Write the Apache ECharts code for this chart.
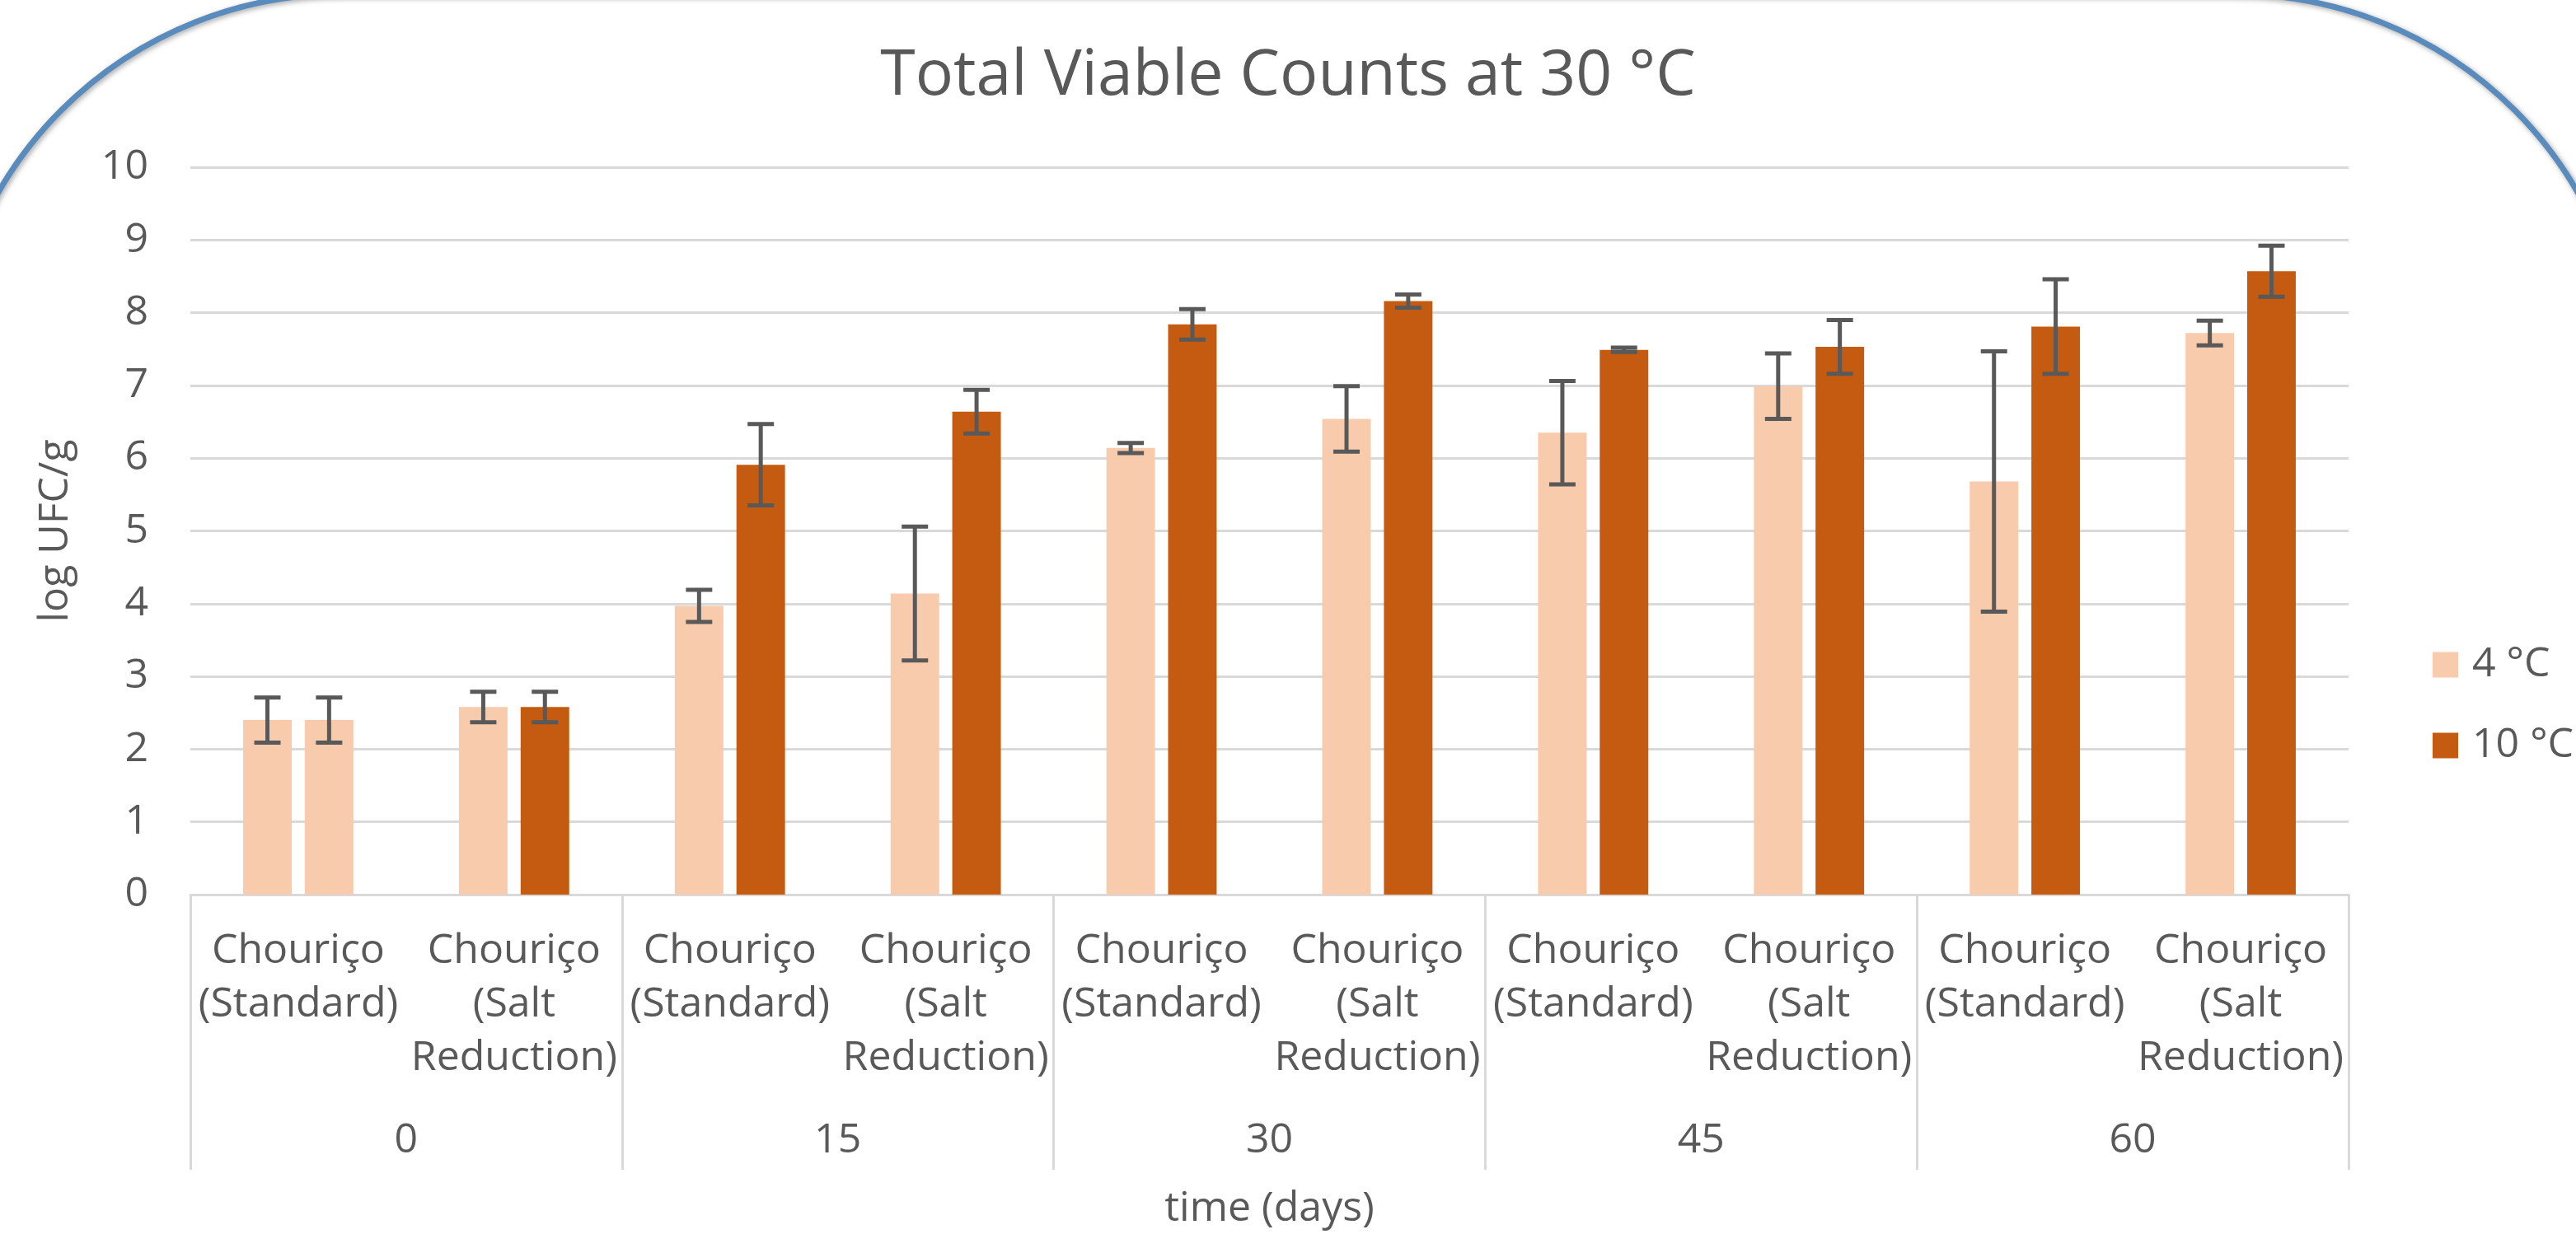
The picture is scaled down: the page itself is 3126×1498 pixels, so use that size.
<!DOCTYPE html>
<html>
<head>
<meta charset="utf-8">
<script src="https://cdn.jsdelivr.net/npm/echarts@6/dist/echarts.min.js"></script>
<style>
html,body{margin:0;padding:0;background:#fff;}
#chart{width:3126px;height:1498px;}
</style>
</head>
<body>
<div id="chart"></div>
<script>
// ---- data ----
const days = ['0', '15', '30', '45', '60'];
const categories = ['Chouriço\n(Standard)', 'Chouriço\n(Salt\nReduction)',
                    'Chouriço\n(Standard)', 'Chouriço\n(Salt\nReduction)',
                    'Chouriço\n(Standard)', 'Chouriço\n(Salt\nReduction)',
                    'Chouriço\n(Standard)', 'Chouriço\n(Salt\nReduction)',
                    'Chouriço\n(Standard)', 'Chouriço\n(Salt\nReduction)'];
const fourC  = [2.40, 2.58, 3.97, 4.14, 6.14, 6.54, 6.35, 6.99, 5.68, 7.72];
const fourErr= [0.31, 0.21, 0.22, 0.92, 0.07, 0.45, 0.71, 0.45, 1.79, 0.17];
const tenC   = [2.40, 2.58, 5.91, 6.64, 7.84, 8.16, 7.49, 7.53, 7.81, 8.57];
const tenErr = [0.31, 0.21, 0.56, 0.30, 0.21, 0.09, 0.03, 0.37, 0.65, 0.35];
const yTicks = [0, 10, 1];

const C4 = '#F8CBAD', C10 = '#C55A11', TXT = '#595959', GRID = '#D9D9D9';
const FONT = '"Open Sans", "DejaVu Sans", sans-serif';
const FS = 50;

const errData = [];
fourC.forEach((v, i) => errData.push([i, v - fourErr[i], v + fourErr[i], 0]));
tenC.forEach((v, i) => errData.push([i, v - tenErr[i], v + tenErr[i], 1]));

const BW = 0.225, BG = 0.27;

const chart = echarts.init(document.getElementById('chart'));
chart.setOption({
  backgroundColor: '#fff',
  animation: false,
  textStyle: {fontFamily: FONT},
  title: {
    text: 'Total Viable Counts at 30 °C',
    left: 'center', top: 50,
    textStyle: {fontFamily: FONT, fontSize: 77, fontWeight: 'normal', color: TXT}
  },
  graphic: [{
    type: 'rect', z: -10, silent: true,
    shape: {x: -66, y: -7, width: 3258, height: 3000, r: 480},
    style: {fill: 'none', stroke: '#5A8BBD', lineWidth: 7,
            shadowBlur: 6, shadowColor: 'rgba(0,0,0,0.35)', shadowOffsetX: 2, shadowOffsetY: 2}
  }],
  legend: {
    orient: 'vertical', left: 2952, top: 782,
    itemWidth: 31, itemHeight: 31, itemGap: 48, padding: 0,
    icon: 'rect',
    data: ['4 °C', '10 °C'],
    textStyle: {fontFamily: FONT, fontSize: FS, color: TXT, padding: [0, 0, 0, 12]}
  },
  grid: {left: 231, right: 276, top: 203, bottom: 410, containLabel: false},
  xAxis: [{
    type: 'category', position: 'bottom', data: categories,
    axisLine: {show: true, lineStyle: {color: GRID, width: 3}},
    axisTick: {show: false},
    axisLabel: {interval: 0, fontFamily: FONT, fontSize: FS, lineHeight: 65, color: TXT, margin: 36, align: 'center'}
  }, {
    type: 'category', position: 'bottom', data: days,
    axisLine: {show: false},
    axisTick: {show: true, length: 334, interval: 0, alignWithLabel: false, lineStyle: {color: GRID, width: 3}},
    axisLabel: {interval: 0, fontFamily: FONT, fontSize: FS, color: TXT, margin: 274},
    name: 'time (days)', nameLocation: 'middle', nameGap: 382,
    nameTextStyle: {fontFamily: FONT, fontSize: FS, color: TXT, verticalAlign: 'middle'}
  }],
  yAxis: {
    type: 'value', min: yTicks[0], max: yTicks[1], interval: yTicks[2],
    axisLine: {show: false}, axisTick: {show: false},
    splitLine: {lineStyle: {color: GRID, width: 3}},
    axisLabel: {fontFamily: FONT, fontSize: FS, color: TXT, margin: 51},
    name: 'log UFC/g', nameLocation: 'middle', nameGap: 163, nameRotate: 90,
    nameTextStyle: {fontFamily: FONT, fontSize: FS, color: TXT, verticalAlign: 'middle'}
  },
  series: [{
    name: '4 °C', type: 'bar', xAxisIndex: 0, data: fourC,
    barWidth: (BW * 100) + '%', barGap: (BG * 100) + '%',
    itemStyle: {color: C4}
  }, {
    name: '10 °C', type: 'bar', xAxisIndex: 0,
    data: tenC.map((v, i) => i === 0 ? {value: v, itemStyle: {color: C4}} : v),
    barWidth: (BW * 100) + '%', barGap: (BG * 100) + '%',
    itemStyle: {color: C10}
  }, {
    name: 'err', type: 'custom', xAxisIndex: 0, z: 10,
    data: errData,
    renderItem: function (params, api) {
      const i = api.value(0), lo = api.value(1), hi = api.value(2), s = api.value(3);
      const band = api.size([1, 0])[0];
      const off = band * BW * (1 + BG) / 2 * (s === 0 ? -1 : 1);
      const pHi = api.coord([i, hi]);
      const pLo = api.coord([i, lo]);
      const x = pHi[0] + off;
      const cap = 16;
      const st = {stroke: TXT, lineWidth: 5, fill: 'none'};
      return {type: 'group', children: [
        {type: 'line', shape: {x1: x, y1: pHi[1], x2: x, y2: pLo[1]}, style: st},
        {type: 'line', shape: {x1: x - cap, y1: pHi[1], x2: x + cap, y2: pHi[1]}, style: st},
        {type: 'line', shape: {x1: x - cap, y1: pLo[1], x2: x + cap, y2: pLo[1]}, style: st}
      ]};
    }
  }]
});
</script>
</body>
</html>
